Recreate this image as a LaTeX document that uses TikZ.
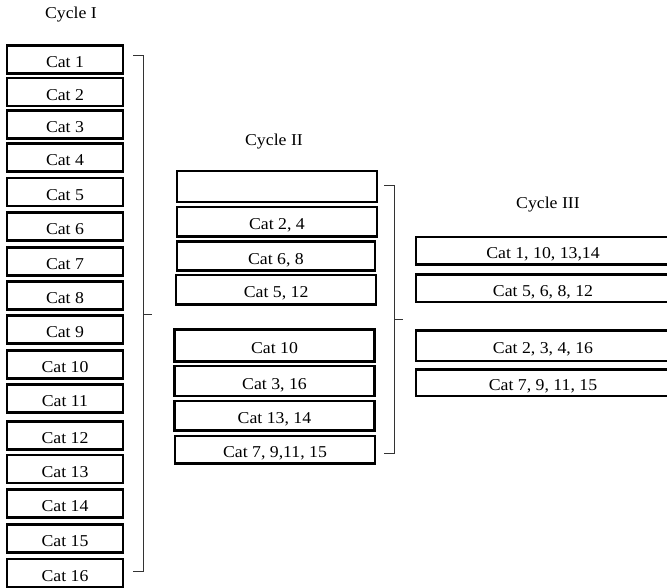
\documentclass[tikz,border=0pt]{standalone}
\usepackage{fontspec}
\setmainfont{Liberation Serif}[FakeStretch=1.07]
\begin{document}
\begin{tikzpicture}[x=1pt,y=-1pt,
  box/.style={draw=black,line width=2.5pt,rectangle,inner sep=0pt,anchor=center,
    text height=16pt,text depth=0pt,
    font=\fontsize{16.6}{18}\selectfont},
  boxI/.style={box,minimum width=116pt,minimum height=28pt},
  boxII/.style={box,minimum width=200pt,minimum height=30pt},
  boxIII/.style={box,minimum width=254pt,minimum height=27.5pt},
  lbl/.style={font=\fontsize{16.6}{18}\selectfont,inner sep=0pt},
  brace/.style={draw=black!80,line width=1pt}]
\useasboundingbox (0,0) rectangle (667,587);
\fill[white] (0,0) rectangle (667,587);
% Cycle I
\node[lbl] (tI) at (71,15) {Cycle I};
\node[boxI] (c1) at (65,59.5) {Cat 1};
\node[boxI] (c2) at (65,92) {Cat 2};
\node[boxI] (c3) at (65,124.5) {Cat 3};
\node[boxI] (c4) at (65,157.7) {Cat 4};
\node[boxI] (c5) at (65,192) {Cat 5};
\node[boxI] (c6) at (65,226.3) {Cat 6};
\node[boxI] (c7) at (65,261.3) {Cat 7};
\node[boxI] (c8) at (65,295.3) {Cat 8};
\node[boxI] (c9) at (65,329.7) {Cat 9};
\node[boxI] (c10) at (65,364.3) {Cat 10};
\node[boxI] (c11) at (65,398.7) {Cat 11};
\node[boxI] (c12) at (65,435.3) {Cat 12};
\node[boxI] (c13) at (65,469) {Cat 13};
\node[boxI] (c14) at (65,503.3) {Cat 14};
\node[boxI] (c15) at (65,538.7) {Cat 15};
\node[boxI] (c16) at (65,573) {Cat 16};
% Bracket I
\coordinate (bIa) at (133,55);
\coordinate (bIb) at (143,55);
\coordinate (bIm) at (143,314);
\coordinate (bIt) at (152,314);
\coordinate (bIc) at (143,571);
\coordinate (bId) at (133,571);
\draw[brace] (bIa) -- (bIb) -- (bIc) -- (bId);
\draw[brace] (bIm) -- (bIt);
% Cycle II
\node[lbl] (tII) at (274,142) {Cycle II};
\node[boxII,minimum height=31pt] (d1) at (277,186.3) {};
\node[boxII,minimum height=29.5pt] (d2) at (277,221.7) {Cat 2, 4};
\node[boxII,minimum height=29pt,minimum width=198pt] (d3) at (276,256.2) {Cat 6, 8};
\node[boxII,minimum height=29.5pt] (d4) at (276.2,289.7) {Cat 5, 12};
\node[boxII,minimum height=32pt] (d5) at (274.5,345.5) {Cat 10};
\node[boxII,minimum height=30pt] (d6) at (274.5,381.2) {Cat 3, 16};
\node[boxII,minimum height=29.5pt] (d7) at (274.5,415.8) {Cat 13, 14};
\node[boxII,minimum height=27.5pt] (d8) at (275,449.5) {Cat 7, 9,11, 15};
% Bracket II
\coordinate (bIIa) at (384,185);
\coordinate (bIIb) at (394,185);
\coordinate (bIIm) at (394,319.3);
\coordinate (bIIt) at (403,319.3);
\coordinate (bIIc) at (394,453.3);
\coordinate (bIId) at (384,453.3);
\draw[brace] (bIIa) -- (bIIb) -- (bIIc) -- (bIId);
\draw[brace] (bIIm) -- (bIIt);
% Cycle III
\node[lbl] (tIII) at (548,205) {Cycle III};
\node[boxIII] (e1) at (543,250.5) {Cat 1, 10, 13,14};
\node[boxIII] (e2) at (543,288.3) {Cat 5, 6, 8, 12};
\node[boxIII,minimum height=30.5pt] (e3) at (543,345.5) {Cat 2, 3, 4, 16};
\node[boxIII,minimum height=26.5pt] (e4) at (543,382.5) {Cat 7, 9, 11, 15};
\end{tikzpicture}
\end{document}
